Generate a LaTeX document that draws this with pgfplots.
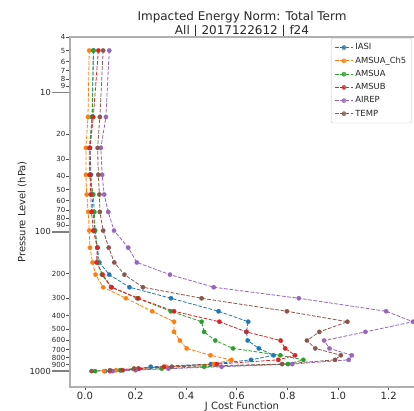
\documentclass[border=0pt]{standalone}
\usepackage{fontspec}
\setmainfont{DejaVu Sans}
\usepackage{pgfplots}
\pgfplotsset{compat=1.18}

\definecolor{cIASI}{HTML}{1F77B4}
\definecolor{cCh5}{HTML}{FF7F0E}
\definecolor{cAMSUA}{HTML}{2CA02C}
\definecolor{cAMSUB}{HTML}{D62728}
\definecolor{cAIREP}{HTML}{9467BD}
\definecolor{cTEMP}{HTML}{8C564B}
\definecolor{spine}{HTML}{B0B0B0}
\definecolor{txt}{HTML}{262626}

\pgfplotsset{
  jcost/.style={color=#1, line width=0.8pt, dash pattern=on 3.7pt off 1.6pt,
    mark=*, mark size=2.2pt, mark options={solid, draw=#1, fill=#1, line width=0.2pt}},
}

\begin{document}
\begin{tikzpicture}
\begin{axis}[
  name=ax,
  scale only axis,
  width=344pt, height=350pt,
  xmin=-0.059, xmax=1.30,
  ymode=log, ymin=4, ymax=1300, y dir=reverse,
  axis line style={draw=none},
  tick align=outside, tick pos=left,
  major tick length=3.5pt,
  tick style={color=txt!80, line width=0.8pt},
  xtick={0,0.2,0.4,0.6,0.8,1.0,1.2},
  xticklabels={0.0,0.2,0.4,0.6,0.8,1.0,1.2},
  xticklabel style={font=\fontsize{10}{12}\selectfont, text=txt, inner sep=1pt},
  ytick={4,5,6,7,8,9,20,30,40,50,60,70,80,90,200,300,400,500,600,700,800,900},
  yticklabels={4,5,6,7,8,9,20,30,40,50,60,70,80,90,200,300,400,500,600,700,800,900},
  yticklabel style={font=\fontsize{7}{8}\selectfont, text=txt, inner sep=1pt},
  extra y ticks={10,100,1000},
  extra y tick labels={10,100,1000},
  extra tick style={major tick length=18pt, tick style={color=gray, line width=1.6pt},
    yticklabel style={font=\fontsize{8.3}{10}\selectfont}},
  title={Impacted Energy Norm: Total Term\\All | 2017122612 | f24},
  title style={align=center, font=\fontsize{12}{14}\selectfont, text=txt,
    at={(axis description cs:0.5,1)}, anchor=south, inner sep=0pt, yshift=-7pt},
  xlabel={J Cost Function},
  xlabel style={font=\fontsize{10}{12}\selectfont, text=txt,
    at={(axis description cs:0.5,-0.043)}, anchor=north, inner sep=0pt},
  ylabel={Pressure Level (hPa)},
  ylabel style={font=\fontsize{10}{12}\selectfont, text=txt,
    at={(axis description cs:-0.125,0.5)}, anchor=south, rotate=0, inner sep=0pt},
  legend cell align=left,
  legend image code/.code={\draw[mark repeat=2, mark phase=2, #1]
    plot coordinates {(0pt,0pt) (9pt,0pt) (18pt,0pt)};},
  legend style={at={(rel axis cs:1,1)}, anchor=north east, xshift=-2pt, yshift=-1pt,
    draw=spine!70, rounded corners=2pt, fill=white, fill opacity=0.8, text opacity=1,
    font=\fontsize{8.4}{10}\selectfont, text=txt, row sep=1.5pt, inner sep=3.5pt},
]
\addplot[jcost=cIASI] coordinates {
(0.034,5) (0.028,15) (0.020,25) (0.024,39) (0.028,54) (0.032,72) (0.040,98) (0.049,130)
(0.057,166) (0.096,203) (0.176,250) (0.340,300) (0.528,372) (0.645,442) (0.638,523)
(0.643,603) (0.687,687) (0.745,770) (0.656,830) (0.498,890) (0.260,930) (0.210,960)
(0.140,985) (0.080,1000)};
\addlegendentry{IASI}
\addplot[jcost=cCh5] coordinates {
(0.017,5) (0.012,15) (0.004,25) (0.004,39) (0.007,54) (0.013,72) (0.017,98) (0.020,130)
(0.030,166) (0.042,203) (0.072,250) (0.162,300) (0.266,372) (0.352,442) (0.352,523)
(0.375,603) (0.402,687) (0.496,770) (0.579,830) (0.510,890) (0.320,930) (0.194,960)
(0.123,985) (0.076,1000)};
\addlegendentry{AMSUA\_Ch5}
\addplot[jcost=cAMSUA] coordinates {
(0.033,5) (0.029,15) (0.017,25) (0.018,39) (0.033,54) (0.037,72) (0.040,98) (0.049,130)
(0.051,166) (0.067,203) (0.103,250) (0.206,300) (0.339,372) (0.461,442) (0.471,523)
(0.515,603) (0.585,687) (0.772,770) (0.863,830) (0.802,890) (0.471,930) (0.303,960)
(0.140,985) (0.040,1000)};
\addlegendentry{AMSUA}
\addplot[jcost=cAMSUB] coordinates {
(0.053,5) (0.033,15) (0.020,25) (0.020,39) (0.023,54) (0.026,72) (0.033,98) (0.049,130)
(0.046,166) (0.070,203) (0.106,250) (0.211,300) (0.352,372) (0.531,442) (0.638,523)
(0.773,603) (0.791,687) (0.830,770) (0.764,830) (0.521,890) (0.312,930) (0.213,960)
(0.149,985) (0.099,1000)};
\addlegendentry{AMSUB}
\addplot[jcost=cAIREP] coordinates {
(0.096,5) (0.083,15) (0.063,25) (0.068,39) (0.076,54) (0.092,72) (0.115,98) (0.171,130)
(0.205,166) (0.336,203) (0.509,250) (0.845,300) (1.190,372) (1.296,442) (1.108,523)
(0.945,603) (0.966,687) (1.054,770) (1.042,830) (0.819,890) (0.540,930) (0.330,960)
(0.200,985) (0.110,1000)};
\addlegendentry{AIREP}
\addplot[jcost=cTEMP] coordinates {
(0.072,5) (0.059,15) (0.050,25) (0.053,39) (0.057,54) (0.059,72) (0.072,98) (0.094,130)
(0.116,166) (0.156,203) (0.229,250) (0.461,300) (0.798,372) (1.037,442) (0.926,523)
(0.877,603) (0.910,687) (1.011,770) (0.988,830) (0.779,890) (0.343,930) (0.194,960)
(0.099,985) (0.026,1000)};
\addlegendentry{TEMP}
\node[anchor=north east, inner sep=0pt, font=\fontsize{10}{12}\selectfont, text=txt]
  at (axis description cs:1,-0.043) {1e8};
\end{axis}
\draw[spine, line width=1.2pt] (ax.south east) -- (ax.south west) -- (ax.north west) -- (ax.north east);
\pgfresetboundingbox
\useasboundingbox ([xshift=-70pt,yshift=-24pt]ax.south west) rectangle ([yshift=37pt]ax.north east);
\end{tikzpicture}
\end{document}
